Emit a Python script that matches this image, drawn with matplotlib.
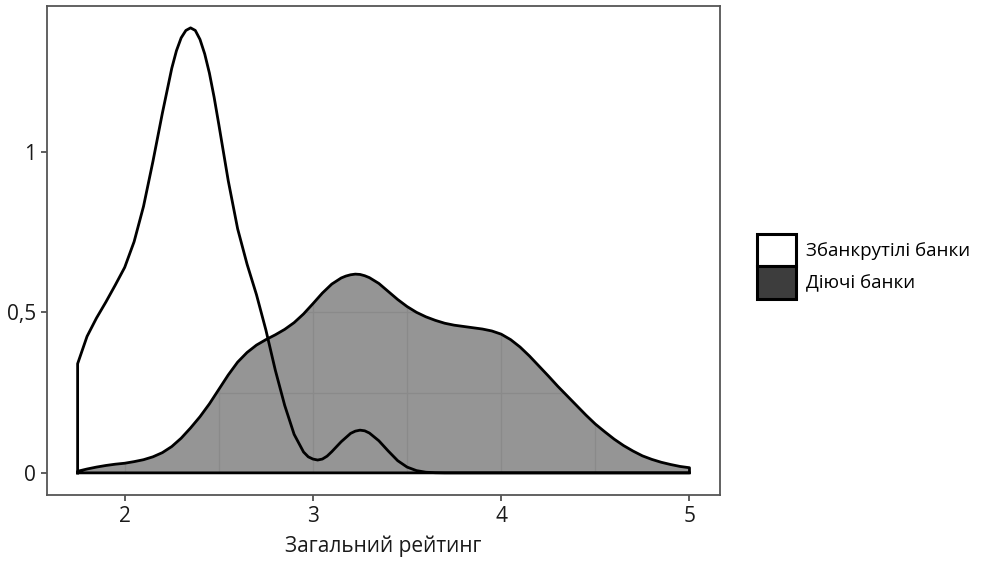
import matplotlib
matplotlib.use("Agg")
import matplotlib.pyplot as plt
from matplotlib.patches import Patch, Polygon

plt.rcParams["font.family"] = ["Open Sans", "DejaVu Sans"]

# density of the overall rating
rating_b = [1.75, 1.80, 1.85, 1.90, 1.95, 2.00, 2.05, 2.10, 2.15, 2.20, 2.25, 2.275,
            2.30, 2.325, 2.35, 2.375, 2.40, 2.425, 2.45, 2.475, 2.50, 2.55, 2.60, 2.65,
            2.70, 2.75, 2.80, 2.85, 2.90, 2.95, 2.975, 3.00, 3.025, 3.05, 3.075, 3.10,
            3.15, 3.20, 3.225, 3.25, 3.275, 3.30, 3.35, 3.40, 3.45, 3.50, 3.55, 3.60,
            3.65, 3.70, 5.00]
bankrupt = [0.340, 0.425, 0.482, 0.532, 0.585, 0.640, 0.720, 0.830, 0.970, 1.120, 1.260, 1.315,
            1.355, 1.378, 1.386, 1.378, 1.350, 1.305, 1.245, 1.170, 1.085, 0.910, 0.760, 0.650,
            0.555, 0.445, 0.320, 0.210, 0.120, 0.065, 0.050, 0.043, 0.040, 0.043, 0.052, 0.066,
            0.097, 0.123, 0.130, 0.133, 0.131, 0.124, 0.100, 0.068, 0.038, 0.018, 0.007, 0.002,
            0.0005, 0.0, 0.0]

rating_a = [1.75, 1.80, 1.85, 1.90, 1.95, 2.00, 2.05, 2.10, 2.15, 2.20, 2.25, 2.30,
            2.35, 2.40, 2.45, 2.50, 2.55, 2.60, 2.65, 2.70, 2.75, 2.80, 2.85, 2.90,
            2.95, 3.00, 3.05, 3.10, 3.15, 3.175, 3.20, 3.225, 3.25, 3.275, 3.30, 3.35,
            3.40, 3.45, 3.50, 3.55, 3.60, 3.65, 3.70, 3.75, 3.80, 3.85, 3.90, 3.95,
            4.00, 4.05, 4.10, 4.15, 4.20, 4.25, 4.30, 4.35, 4.40, 4.45, 4.50, 4.55,
            4.60, 4.65, 4.70, 4.75, 4.80, 4.85, 4.90, 4.95, 5.00]
active = [0.005, 0.012, 0.018, 0.023, 0.027, 0.030, 0.035, 0.041, 0.050, 0.063, 0.082, 0.108,
          0.140, 0.175, 0.215, 0.260, 0.305, 0.345, 0.375, 0.398, 0.415, 0.430, 0.447, 0.468,
          0.495, 0.527, 0.560, 0.588, 0.607, 0.613, 0.617, 0.619, 0.618, 0.614, 0.608, 0.590,
          0.565, 0.540, 0.518, 0.500, 0.486, 0.475, 0.466, 0.460, 0.456, 0.452, 0.448, 0.442,
          0.432, 0.415, 0.392, 0.364, 0.333, 0.302, 0.270, 0.240, 0.210, 0.180, 0.152, 0.128,
          0.105, 0.085, 0.068, 0.053, 0.042, 0.033, 0.026, 0.020, 0.016]

group_labels = ["Збанкрутілі банки", "Діючі банки"]
x_ticks = [2, 3, 4, 5]
y_ticks = [0, 0.5, 1]
y_tick_labels = ["0", "0,5", "1"]


def closed(xs, ys):
    # polygon of a density: down to the baseline at both ends
    return [(xs[0], 0)] + list(zip(xs, ys)) + [(xs[-1], 0)]


fig = plt.figure(figsize=(9.86, 5.64), dpi=100)
ax = fig.add_axes([0.0477, 0.1223, 0.6826, 0.867])

ax.set_xlim(1.5875, 5.1625)
ax.set_ylim(-0.069, 1.454)

pb = closed(rating_b, bankrupt)
pa = closed(rating_a, active)

# white area first, grey one on top
poly_b = Polygon(pb, closed=True, facecolor="white", edgecolor="none", zorder=1)
ax.add_patch(poly_b)
poly_a = Polygon(pa, closed=True, facecolor="#959595", edgecolor="none", zorder=2)
ax.add_patch(poly_a)

# grid only shows through the grey area
for gx in [2, 2.5, 3, 3.5, 4, 4.5, 5]:
    ln, = ax.plot([gx, gx], [-1, 2], color="#8a8a8a", lw=0.9, zorder=3)
    ln.set_clip_path(poly_a)
for gy in [0.25, 0.5, 0.75, 1.0, 1.25]:
    ln, = ax.plot([0, 6], [gy, gy], color="#8a8a8a", lw=0.9, zorder=3)
    ln.set_clip_path(poly_a)

ax.plot([p[0] for p in pb], [p[1] for p in pb], color="black", lw=2.0,
        solid_joinstyle="round", zorder=4)
ax.plot([p[0] for p in pa] + [pa[0][0]], [p[1] for p in pa] + [pa[0][1]],
        color="black", lw=2.0, solid_joinstyle="round", zorder=4)

ax.set_xticks(x_ticks)
ax.set_xticklabels([str(t) for t in x_ticks])
ax.set_yticks(y_ticks)
ax.set_yticklabels(y_tick_labels)
ax.tick_params(axis="both", length=4, width=1.1, color="#333333",
               labelsize=15, labelcolor="#1a1a1a", pad=4)
for s in ax.spines.values():
    s.set_color("#555555")
    s.set_linewidth(1.3)

ax.set_xlabel("Загальний рейтинг", fontsize=15, color="#1a1a1a", labelpad=6)

handles = [Patch(facecolor="white", edgecolor="black", linewidth=2.2),
           Patch(facecolor="#3d3d3d", edgecolor="black", linewidth=2.2)]
fig.legend(handles, group_labels, loc="center left", bbox_to_anchor=(0.768, 0.528),
           frameon=False, fontsize=13.5, handlelength=2.05, handleheight=2.3,
           labelspacing=0.0, handletextpad=0.55, borderpad=0, borderaxespad=0)

fig.savefig("out.png", dpi=100)
